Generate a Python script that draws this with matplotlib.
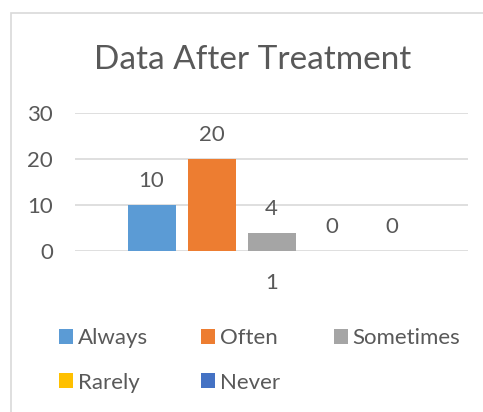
import matplotlib.pyplot as plt
from matplotlib.patches import Rectangle

plt.rcParams['font.family'] = ['Lato', 'DejaVu Sans']

# data
series = ["Always", "Often", "Sometimes", "Rarely", "Never"]
values = [10, 20, 4, 0, 0]
colors = ["#5B9BD5", "#ED7D31", "#A5A5A5", "#FFC000", "#4472C4"]
category = ["1"]
yticks = [0, 10, 20, 30]

text_col = "#595959"
grid_col = "#D9D9D9"
fs = 16

fig = plt.figure(figsize=(4.83, 4.12), dpi=100)
ax = fig.add_axes([75 / 483, 1 - 251 / 412, 393 / 483, 138 / 412])

# chart border (only left and top visible in the crop)
fig.patches.append(Rectangle((11 / 483, -0.1), 1.2, (1 - 13 / 412) + 0.1,
                             transform=fig.transFigure, fill=False,
                             edgecolor=grid_col, linewidth=1.2))

step = 60 / 393
width = 48 / 393
bars = []
for i, (name, v, c) in enumerate(zip(series, values, colors)):
    b = ax.bar(0 + (i - 2) * step, v, width, color=c, label=name, linewidth=0)
    ax.bar_label(b, labels=[str(v)], padding=10, fontsize=fs, color=text_col)
    bars.append(b)

ax.set_xlim(-0.5, 0.5)
ax.set_ylim(0, 30)
ax.set_yticks(yticks)
ax.set_xticks([0])
ax.set_xticklabels(category)
ax.tick_params(axis='x', length=0, pad=16, labelsize=fs, labelcolor=text_col)
ax.tick_params(axis='y', length=0, pad=16, labelsize=fs, labelcolor=text_col)
ax.yaxis.grid(True, color=grid_col, linewidth=1.2)
ax.set_axisbelow(True)
for s in ax.spines.values():
    s.set_visible(False)

fig.text(253 / 483, 1 - 60 / 412, "Data After Treatment", ha='center', va='center',
         fontsize=24, color=text_col)

# legend ordered so columns read Always/Rarely, Often/Never, Sometimes
order = [0, 3, 1, 4, 2]
fig.legend([bars[i] for i in order], [series[i] for i in order], ncol=3,
           loc='upper left', bbox_to_anchor=(48 / 483, 1 - 317 / 412),
           frameon=False, fontsize=fs, labelcolor=text_col, borderpad=0,
           handlelength=0.63, handleheight=0.63, handletextpad=0.22,
           columnspacing=2.4, labelspacing=1.1)

fig.savefig("out.png", dpi=100)
